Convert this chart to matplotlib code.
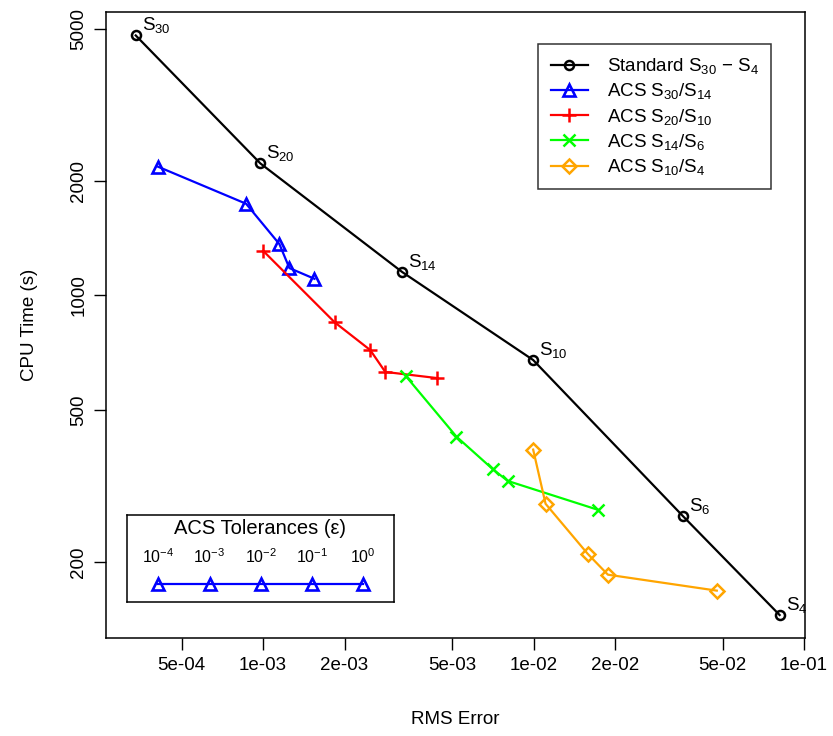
import matplotlib
matplotlib.use("Agg")
import matplotlib.pyplot as plt
from matplotlib.ticker import FixedLocator, FixedFormatter, NullLocator

plt.rcParams['font.family'] = ['Liberation Sans', 'DejaVu Sans']
plt.rcParams['mathtext.default'] = 'regular'

# standard runs S30 - S4
std_err = [3.38e-4, 9.77e-4, 3.27e-3, 9.97e-3, 0.0358, 0.0813]
std_time = [4814, 2221, 1152, 677, 263, 145]
std_names = ['S$_{30}$', 'S$_{20}$', 'S$_{14}$', 'S$_{10}$', 'S$_{6}$', 'S$_{4}$']

# ACS runs, tolerance 1e-4 ... 1e0
acs30_err = [4.09e-4, 8.65e-4, 1.149e-3, 1.251e-3, 1.549e-3]
acs30_time = [2177, 1741, 1364, 1180, 1106]
acs20_err = [1.0e-3, 1.837e-3, 2.49e-3, 2.83e-3, 4.40e-3]
acs20_time = [1310, 851, 719, 630, 607]
acs14_err = [3.38e-3, 5.19e-3, 7.07e-3, 8.03e-3, 0.01726]
acs14_time = [613, 426, 350, 326, 274]
acs10_err = [9.97e-3, 0.01108, 0.01585, 0.01884, 0.04762]
acs10_time = [394, 284, 210, 185, 168]

tolerances = [1e-4, 1e-3, 1e-2, 1e-1, 1e0]
tol_labels = ['$10^{-4}$', '$10^{-3}$', '$10^{-2}$', '$10^{-1}$', '$10^{0}$']

xticks = [5e-4, 1e-3, 2e-3, 5e-3, 1e-2, 2e-2, 5e-2, 1e-1]
xtick_labels = ['5e-04', '1e-03', '2e-03', '5e-03', '1e-02', '2e-02', '5e-02', '1e-01']
yticks = [200, 500, 1000, 2000, 5000]
ytick_labels = ['200', '500', '1000', '2000', '5000']

FS = 13.5
W, H = 833, 736
fig = plt.figure(figsize=(W / 100, H / 100), dpi=100)
ax = fig.add_axes([106 / W, 1 - 638 / H, 699 / W, 626 / H])

ax.plot(std_err, std_time, color='black', lw=1.6, marker='o', ms=6.5,
        mfc='none', mew=1.8, label='Standard S$_{30}$ − S$_{4}$')
ax.plot(acs30_err, acs30_time, color='#0000FF', lw=1.6, marker='^', ms=9,
        mfc='none', mew=1.9, label='ACS S$_{30}$/S$_{14}$')
ax.plot(acs20_err, acs20_time, color='#FF0000', lw=1.6, marker='+', ms=10,
        mew=1.8, label='ACS S$_{20}$/S$_{10}$')
ax.plot(acs14_err, acs14_time, color='#00FF00', lw=1.6, marker='x', ms=8,
        mew=1.8, label='ACS S$_{14}$/S$_{6}$')
ax.plot(acs10_err, acs10_time, color='#FFA500', lw=1.6, marker='D', ms=7.5,
        mfc='none', mew=1.8, label='ACS S$_{10}$/S$_{4}$')

for x, y, name in zip(std_err, std_time, std_names):
    ax.annotate(name, (x, y), xytext=(6, 5), textcoords='offset pixels',
                fontsize=FS, ha='left', va='baseline', color='black')

ax.set_xscale('log')
ax.set_yscale('log')
ax.set_xlim(10 ** -3.581, 10 ** -0.996)
ax.set_ylim(10 ** 2.101, 10 ** 3.744)
ax.xaxis.set_major_locator(FixedLocator(xticks))
ax.xaxis.set_major_formatter(FixedFormatter(xtick_labels))
ax.yaxis.set_major_locator(FixedLocator(yticks))
ax.yaxis.set_major_formatter(FixedFormatter(ytick_labels))
ax.xaxis.set_minor_locator(NullLocator())
ax.yaxis.set_minor_locator(NullLocator())
ax.tick_params(axis='both', direction='out', length=8.5, width=1.0,
               labelsize=FS, color='black')
ax.tick_params(axis='x', pad=5)
ax.tick_params(axis='y', pad=5, labelrotation=90)
for lab in ax.get_yticklabels():
    lab.set_va('center')
for sp in ax.spines.values():
    sp.set_linewidth(1.1)

ax.set_xlabel('RMS Error', fontsize=FS)
ax.set_ylabel('CPU Time (s)', fontsize=FS)
ax.xaxis.set_label_coords(0.5, -0.117)
ax.yaxis.set_label_coords(-0.097, 0.5)

leg = ax.legend(loc='upper right', bbox_to_anchor=(771 / W, 1 - 44 / H),
                bbox_transform=fig.transFigure, borderaxespad=0,
                fontsize=FS, frameon=True, fancybox=False, edgecolor='black',
                handlelength=2.0, handletextpad=1.0, labelspacing=0.28,
                borderpad=0.65)
leg.get_frame().set_linewidth(1.1)

# tolerance key
kax = fig.add_axes([126.7 / W, 1 - 601.7 / H, 267.3 / W, 86.7 / H])
kax.set_xscale('log')
kax.set_xlim(10 ** -4.617, 10 ** 0.599)
kax.set_ylim(0, 1)
kax.set_xticks([])
kax.set_yticks([])
kax.xaxis.set_minor_locator(NullLocator())
for sp in kax.spines.values():
    sp.set_linewidth(1.1)
kax.plot(tolerances, [0.204] * len(tolerances), color='#0000FF', lw=1.6,
         marker='^', ms=9, mfc='none', mew=1.9)
for t, lab in zip(tolerances, tol_labels):
    kax.text(t, 0.52, lab, fontsize=11.5, ha='center', va='center')
kax.text(0.5, 0.85, 'ACS Tolerances (ε)', transform=kax.transAxes,
         fontsize=14.5, ha='center', va='center')

fig.savefig('out.png', dpi=100)
